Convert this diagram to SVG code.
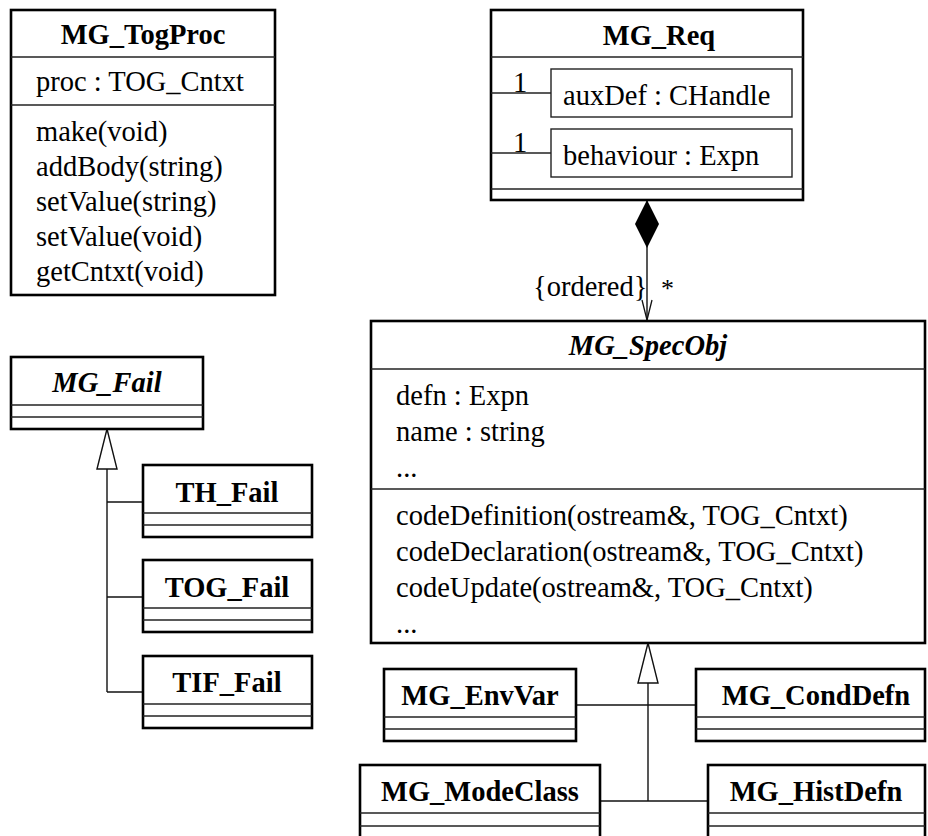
<svg xmlns="http://www.w3.org/2000/svg" width="928" height="836" viewBox="0 0 928 836">
  <style>
    .box { fill: #fff; stroke: #000; stroke-width: 2.6; }
    .sep { stroke: #222; stroke-width: 1.4; fill: none; }
    .inner { fill: #fff; stroke: #222; stroke-width: 1.4; }
    .line { stroke: #111; stroke-width: 1.4; fill: none; }
    text { font-family: "Liberation Serif", "Times New Roman", serif; font-size: 28.5px; fill: #000; }
    .title { font-weight: bold; text-anchor: middle; }
    .abstract { font-weight: bold; font-style: italic; text-anchor: middle; }
  </style>
  <defs>
    <marker id="gen" markerUnits="userSpaceOnUse" viewBox="0 0 42 22" markerWidth="42" markerHeight="22" refX="41" refY="11" orient="auto">
      <path d="M1,1 L41,11 L1,21 z" fill="#fff" stroke="#111" stroke-width="1.4"/>
    </marker>
    <marker id="comp" markerUnits="userSpaceOnUse" viewBox="0 0 48 24" markerWidth="48" markerHeight="24" refX="0" refY="12" orient="auto">
      <path d="M0,12 L24,0 L48,12 L24,24 z" fill="#000"/>
    </marker>
    <marker id="open" markerUnits="userSpaceOnUse" viewBox="0 0 22 12" markerWidth="22" markerHeight="12" refX="21" refY="6" orient="auto">
      <path d="M1,1 L21,6 L1,11" fill="none" stroke="#111" stroke-width="1.3"/>
    </marker>
  </defs>

  <!-- connectors -->
  <g id="connectors">
    <!-- failure hierarchy -->
    <path class="line" d="M107,692 L107,429" marker-end="url(#gen)"/>
    <path class="line" d="M107,502 L143,502"/>
    <path class="line" d="M107,597 L143,597"/>
    <path class="line" d="M107,692 L143,692"/>
    <!-- spec object hierarchy -->
    <path class="line" d="M648,801 L648,643" marker-end="url(#gen)"/>
    <path class="line" d="M576,705 L696,705"/>
    <path class="line" d="M600,801 L708,801"/>
    <!-- requirement composition -->
    <path class="line" d="M647,200 L647,320" marker-start="url(#comp)" marker-end="url(#open)"/>
    <text x="533" y="296">{ordered}</text>
    <text x="661" y="297" style="font-size:26px">*</text>
  </g>

  <g id="MG_TogProc">
    <rect class="box" x="11" y="10" width="264" height="285"/>
    <line class="sep" x1="11" y1="57" x2="275" y2="57"/>
    <line class="sep" x1="11" y1="105" x2="275" y2="105"/>
    <text class="title" x="143" y="44">MG_TogProc</text>
    <text x="36" y="91">proc : TOG_Cntxt</text>
    <text x="36" y="141">make(void)</text>
    <text x="36" y="176">addBody(string)</text>
    <text x="36" y="211">setValue(string)</text>
    <text x="36" y="246">setValue(void)</text>
    <text x="36" y="281">getCntxt(void)</text>
  </g>

  <g id="MG_Req">
    <rect class="box" x="491" y="10" width="312" height="190"/>
    <line class="sep" x1="491" y1="57" x2="803" y2="57"/>
    <line class="sep" x1="491" y1="189" x2="803" y2="189"/>
    <text class="title" x="659" y="45">MG_Req</text>
    <rect class="inner" x="551" y="69" width="241" height="48"/>
    <rect class="inner" x="551" y="129" width="241" height="48"/>
    <line class="sep" x1="491" y1="93" x2="551" y2="93"/>
    <line class="sep" x1="491" y1="153" x2="551" y2="153"/>
    <text x="513" y="92">1</text>
    <text x="513" y="152">1</text>
    <text x="563" y="105">auxDef : CHandle</text>
    <text x="563" y="165">behaviour : Expn</text>
  </g>

  <g id="MG_SpecObj">
    <rect class="box" x="371" y="321" width="554" height="322"/>
    <line class="sep" x1="371" y1="369" x2="925" y2="369"/>
    <line class="sep" x1="371" y1="489" x2="925" y2="489"/>
    <text class="abstract" x="648" y="355">MG_SpecObj</text>
    <text x="396" y="405">defn : Expn</text>
    <text x="396" y="441">name : string</text>
    <text x="396" y="477">...</text>
    <text x="396" y="525">codeDefinition(ostream&amp;, TOG_Cntxt)</text>
    <text x="396" y="561">codeDeclaration(ostream&amp;, TOG_Cntxt)</text>
    <text x="396" y="597">codeUpdate(ostream&amp;, TOG_Cntxt)</text>
    <text x="396" y="633">...</text>
  </g>

  <g id="MG_Fail">
    <rect class="box" x="11" y="357" width="192" height="72"/>
    <line class="sep" x1="11" y1="405" x2="203" y2="405"/>
    <line class="sep" x1="11" y1="417" x2="203" y2="417"/>
    <text class="abstract" x="107" y="392">MG_Fail</text>
  </g>

  <g id="TH_Fail">
    <rect class="box" x="143" y="465" width="169" height="72"/>
    <line class="sep" x1="143" y1="513" x2="312" y2="513"/>
    <line class="sep" x1="143" y1="525" x2="312" y2="525"/>
    <text class="title" x="227" y="502">TH_Fail</text>
  </g>

  <g id="TOG_Fail">
    <rect class="box" x="143" y="560" width="169" height="72"/>
    <line class="sep" x1="143" y1="608" x2="312" y2="608"/>
    <line class="sep" x1="143" y1="620" x2="312" y2="620"/>
    <text class="title" x="227" y="597">TOG_Fail</text>
  </g>

  <g id="TIF_Fail">
    <rect class="box" x="143" y="656" width="169" height="72"/>
    <line class="sep" x1="143" y1="704" x2="312" y2="704"/>
    <line class="sep" x1="143" y1="716" x2="312" y2="716"/>
    <text class="title" x="227" y="692">TIF_Fail</text>
  </g>

  <g id="MG_EnvVar">
    <rect class="box" x="384" y="669" width="192" height="72"/>
    <line class="sep" x1="384" y1="717" x2="576" y2="717"/>
    <line class="sep" x1="384" y1="729" x2="576" y2="729"/>
    <text class="title" x="480" y="705">MG_EnvVar</text>
  </g>

  <g id="MG_CondDefn">
    <rect class="box" x="696" y="669" width="229" height="72"/>
    <line class="sep" x1="696" y1="717" x2="925" y2="717"/>
    <line class="sep" x1="696" y1="729" x2="925" y2="729"/>
    <text class="title" x="816" y="705">MG_CondDefn</text>
  </g>

  <!-- the two lowest classes run past the bottom edge -->
  <g id="MG_ModeClass">
    <rect class="box" x="360" y="765" width="240" height="80"/>
    <line class="sep" x1="360" y1="813" x2="600" y2="813"/>
    <line class="sep" x1="360" y1="826" x2="600" y2="826"/>
    <text class="title" x="480" y="801">MG_ModeClass</text>
  </g>

  <g id="MG_HistDefn">
    <rect class="box" x="708" y="765" width="217" height="80"/>
    <line class="sep" x1="708" y1="813" x2="925" y2="813"/>
    <line class="sep" x1="708" y1="826" x2="925" y2="826"/>
    <text class="title" x="816" y="801">MG_HistDefn</text>
  </g>
</svg>
